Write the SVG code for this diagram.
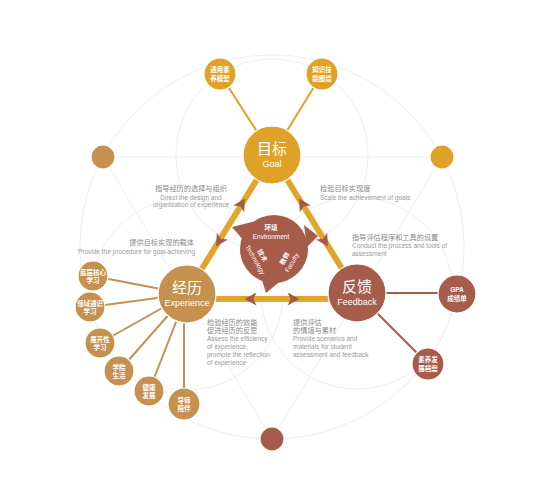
<svg xmlns="http://www.w3.org/2000/svg" width="550" height="491" viewBox="0 0 550 491">
<defs>
<style>
.bg{fill:none;stroke:#efefef;stroke-width:1}
.tri{stroke:#E0A52A;stroke-width:6;fill:none}
.arr{fill:#A25B47}
.gold{fill:#DFA227;stroke:#fff;stroke-width:1.2}
.tan{fill:#C4914F;stroke:#fff;stroke-width:1.2}
.brown{fill:#A65C4A;stroke:#fff;stroke-width:1.2}
.lg{stroke:#DFA227;stroke-width:2}
.lt{stroke:#C4914F;stroke-width:2}
.lb{stroke:#A65C4A;stroke-width:2}
text{font-family:"Liberation Sans","Noto Sans CJK SC",sans-serif}
.nt{font-size:6.5px;fill:#fff;text-anchor:middle;font-weight:bold}
.big{font-size:15px;fill:#fff;text-anchor:middle}
.en{font-size:9px;fill:#fff;text-anchor:middle}
.lc{font-size:7.2px;fill:#888}
.le{font-size:6.5px;fill:#9a9a9a}
.bt{font-size:6.5px;fill:#fff;text-anchor:middle}
</style>
<path id="ah" d="M7.5,0 L-4.5,-6.5 L-1.5,0 L-4.5,6.5 Z"/>
</defs>
<rect width="550" height="491" fill="#fff"/>
<g id="background">
<circle class="bg" cx="272" cy="247" r="192"/>
<circle class="bg" cx="272" cy="155" r="96"/>
<circle class="bg" cx="187" cy="294" r="96"/>
<circle class="bg" cx="357" cy="293" r="96"/>
<line class="bg" x1="103" y1="157" x2="442" y2="157"/>
<line class="bg" x1="103" y1="157" x2="272" y2="439"/>
<line class="bg" x1="442" y1="157" x2="272" y2="439"/>
</g>
<g id="connectors">
<line class="lg" x1="220" y1="74" x2="272" y2="155"/>
<line class="lg" x1="322" y1="74" x2="272" y2="155"/>
<line class="lt" x1="93" y1="276" x2="187" y2="294"/>
<line class="lt" x1="90" y1="307" x2="187" y2="294"/>
<line class="lt" x1="100" y1="343" x2="187" y2="294"/>
<line class="lt" x1="119" y1="371" x2="187" y2="294"/>
<line class="lt" x1="149" y1="391" x2="187" y2="294"/>
<line class="lt" x1="184" y1="403" x2="184" y2="294"/>
<line class="lb" x1="357" y1="293" x2="457" y2="293"/>
<line class="lb" x1="357" y1="293" x2="428" y2="364"/>
<line class="tri" x1="272" y1="155" x2="187" y2="293"/>
<line class="tri" x1="272" y1="155" x2="357" y2="293"/>
<line class="tri" x1="200" y1="299" x2="345" y2="299"/>
<use href="#ah" class="arr" transform="translate(241,205) rotate(-58.4)"/>
<use href="#ah" class="arr" transform="translate(220,240) rotate(121.6)"/>
<use href="#ah" class="arr" transform="translate(303,205) rotate(-121.6)"/>
<use href="#ah" class="arr" transform="translate(324,240) rotate(58.4)"/>
<use href="#ah" class="arr" transform="translate(252,299) rotate(180)"/>
<use href="#ah" class="arr" transform="translate(292,299)"/>
</g>
<g id="environment">
<circle cx="274" cy="249" r="34" fill="#A65C4A"/>
<polygon points="232,227 256,221 244,241" fill="#A65C4A"/>
<polygon points="318,236 304,225 307,247" fill="#A65C4A"/>
<polygon points="266,293 261,277 283,279" fill="#A65C4A"/>
<text class="bt" x="271" y="230" font-weight="bold" font-size="7">环境</text>
<text class="bt" x="271" y="238.5" font-size="6.3">Environment</text>
<g transform="translate(258,258) rotate(60)">
<text class="bt" y="-2.5" font-weight="bold" font-size="7">技术</text>
<text class="bt" y="5.5" font-size="6.3">Technology</text>
</g>
<g transform="translate(289,261) rotate(-60)">
<text class="bt" y="-2.5" font-weight="bold" font-size="7">教师</text>
<text class="bt" y="5.5" font-size="6.3">Faculty</text>
</g>
</g>
<g id="goal">
<circle class="gold" cx="272" cy="155" r="29"/>
<text class="big" x="272" y="154">目标</text>
<text class="en" x="272" y="167">Goal</text>
</g>
<g id="experience">
<circle class="tan" cx="187" cy="294" r="29"/>
<text class="big" x="187" y="293">经历</text>
<text class="en" x="187" y="306">Experience</text>
</g>
<g id="feedback">
<circle class="brown" cx="357" cy="293" r="29"/>
<text class="big" x="357" y="292">反馈</text>
<text class="en" x="357" y="305">Feedback</text>
</g>
<g id="node-tongyong">
<circle class="gold" cx="220" cy="74" r="16"/>
<text class="nt" x="220" y="72" font-size="7">通用素</text>
<text class="nt" x="220" y="81" font-size="7">养模型</text>
</g>
<g id="node-zhishi">
<circle class="gold" cx="322" cy="74" r="16"/>
<text class="nt" x="322" y="72" font-size="7">知识技</text>
<text class="nt" x="322" y="81" font-size="7">能图谱</text>
</g>
<g id="dot-left"><circle class="tan" cx="103" cy="157" r="12"/></g>
<g id="dot-right"><circle class="gold" cx="442" cy="157" r="12"/></g>
<g id="dot-bottom"><circle class="brown" cx="272" cy="439" r="12"/></g>
<g id="node-diceng">
<circle class="tan" cx="93" cy="276" r="15"/>
<text class="nt" x="93" y="274.5">底层核心</text>
<text class="nt" x="93" y="282.5">学习</text>
</g>
<g id="node-lingyu">
<circle class="tan" cx="90" cy="307" r="15"/>
<text class="nt" x="90" y="305.5">领域通识</text>
<text class="nt" x="90" y="313.5">学习</text>
</g>
<g id="node-zhankai">
<circle class="tan" cx="100" cy="343" r="15"/>
<text class="nt" x="100" y="341.5">展开性</text>
<text class="nt" x="100" y="349.5">学习</text>
</g>
<g id="node-xueyuan">
<circle class="tan" cx="119" cy="371" r="15"/>
<text class="nt" x="119" y="369.5">学院</text>
<text class="nt" x="119" y="377.5">生活</text>
</g>
<g id="node-jiankang">
<circle class="tan" cx="149" cy="391" r="15"/>
<text class="nt" x="149" y="389.5">健康</text>
<text class="nt" x="149" y="397.5">发展</text>
</g>
<g id="node-daoshi">
<circle class="tan" cx="184" cy="404" r="16"/>
<text class="nt" x="184" y="402.5">导师</text>
<text class="nt" x="184" y="410.5">陪伴</text>
</g>
<g id="node-gpa">
<circle class="brown" cx="457" cy="294" r="19"/>
<text class="nt" x="457" y="292" font-size="7">GPA</text>
<text class="nt" x="457" y="301" font-size="7">成绩单</text>
</g>
<g id="node-suyang">
<circle class="brown" cx="428" cy="364" r="16"/>
<text class="nt" x="428" y="362" font-size="7">素养发</text>
<text class="nt" x="428" y="371" font-size="7">展档案</text>
</g>
<g id="labels">
<g text-anchor="middle">
<text class="lc" x="191" y="191">指导经历的选择与组织</text>
<text class="le" x="191" y="199.5">Direct the design and</text>
<text class="le" x="191" y="207">organization of experience</text>
</g>
<g text-anchor="end">
<text class="lc" x="194" y="245">提供目标实现的载体</text>
<text class="le" x="195" y="253.5">Provide the procedure for goal-achieving</text>
</g>
<text class="lc" x="320" y="191">检验目标实现度</text>
<text class="le" x="320" y="199.5">Scale the achievement of goals</text>
<text class="lc" x="352" y="240">指导评估程序和工具的设置</text>
<text class="le" x="352" y="248">Conduct the process and tools of</text>
<text class="le" x="352" y="256">assessment</text>
<text class="lc" x="207" y="325">检验经历的效能</text>
<text class="lc" x="207" y="333">促进经历的反思</text>
<text class="le" x="207" y="341">Assess the efficiency</text>
<text class="le" x="207" y="349">of experience,</text>
<text class="le" x="207" y="357">promote the reflection</text>
<text class="le" x="207" y="365">of experience</text>
<text class="lc" x="293" y="325">提供评估</text>
<text class="lc" x="293" y="333">的情境与素材</text>
<text class="le" x="293" y="341">Provide scenarios and</text>
<text class="le" x="293" y="349">materials for student</text>
<text class="le" x="293" y="357">assessment and feedback</text>
</g>
</svg>
